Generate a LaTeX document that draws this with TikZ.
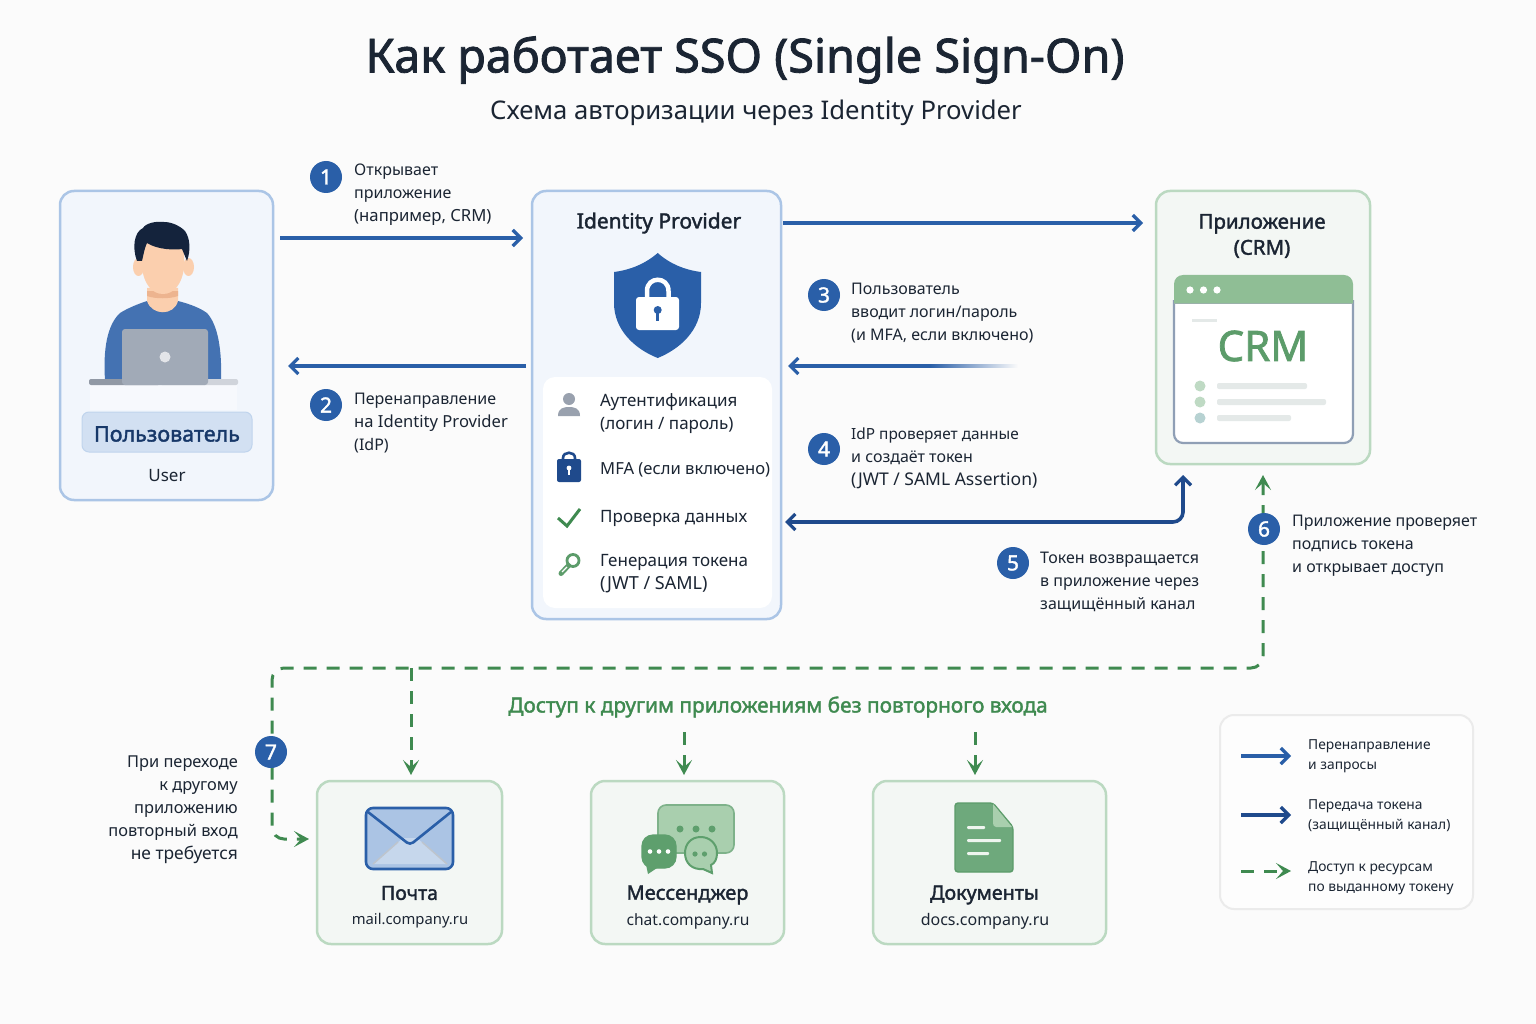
\documentclass[tikz,border=0pt]{standalone}
\usepackage{fontspec}
\setmainfont{Noto Sans}
\newfontfamily\medfont[FakeBold=1.8]{Noto Sans}
\usetikzlibrary{arrows.meta,calc}
\definecolor{bgc}{HTML}{FBFBFB}
\definecolor{ink}{HTML}{1B2533}
\definecolor{blueL}{HTML}{2A5FA8}
\definecolor{blueD}{HTML}{1F4A8C}
\definecolor{greenL}{HTML}{3F8A50}
\definecolor{bcard}{HTML}{F2F6FC}
\definecolor{bbord}{HTML}{ABC5E6}
\definecolor{gcard}{HTML}{F3F7F4}
\definecolor{gbord}{HTML}{BBD9C1}
\definecolor{skin}{HTML}{FBCFAE}
\definecolor{skinD}{HTML}{EDB48F}
\definecolor{hair}{HTML}{14233C}
\definecolor{grayL}{HTML}{A1AAB7}
\definecolor{wgreen}{HTML}{8FBE95}
\definecolor{wline}{HTML}{E4E9E8}
\definecolor{wdot}{HTML}{BFDAC4}
\definecolor{mailF}{HTML}{ABC4E4}
\definecolor{mailL}{HTML}{C6D7EC}
\definecolor{chatF}{HTML}{A9CFAE}
\definecolor{chatD}{HTML}{5E9F6D}
\newcommand{\sz}[2]{{\fontsize{#1}{23}\selectfont #2}}
\tikzset{
  x=1pt,y=-1pt,
  >={Straight Barb[length=8pt,width=16pt,line width=3.2pt]},
  bluecard/.style={draw=bbord,fill=bcard,line width=2.5pt,rounded corners=14pt,inner sep=0pt,outer sep=0pt},
  greencard/.style={draw=gbord,fill=gcard,line width=2.5pt,rounded corners=14pt,inner sep=0pt,outer sep=0pt},
  flow/.style={draw=blueL,line width=3.4pt},
  token/.style={draw=blueD,line width=3.6pt},
  access/.style={>={Stealth[length=15pt,width=16pt,inset=7pt]},draw=greenL,line width=3pt,dash pattern=on 13pt off 10pt},
  badge/.style={circle,fill=blueL,text=white,minimum size=32pt,inner sep=0pt,font=\fontsize{21}{21}\selectfont\medfont},
  lbl/.style={font=\fontsize{16}{23}\selectfont,text=ink,align=left,anchor=west,inner sep=0pt},
  lblr/.style={font=\fontsize{16.4}{23}\selectfont,text=ink,align=right,anchor=east,inner sep=0pt},
  listt/.style={font=\fontsize{17}{23}\selectfont,text=ink,align=left,anchor=west,inner sep=0pt},
  leg/.style={font=\fontsize{13.8}{20}\selectfont,text=ink,align=left,anchor=west,inner sep=0pt},
  head/.style={font=\fontsize{20.5}{26}\selectfont\medfont,text=ink,align=center,inner sep=0pt},
  sub/.style={font=\fontsize{16}{16}\selectfont,text=ink,inner sep=0pt},
}
\begin{document}
\begin{tikzpicture}
\useasboundingbox (0,0) rectangle (1536,1024);
\fill[bgc] (0,0) rectangle (1536,1024);

% title
\node[font=\fontsize{46.8}{46.8}\selectfont\medfont,text=ink,inner sep=0pt] (title) at (745,60) {Как работает SSO (Single Sign-On)};
\node[font=\fontsize{25.7}{25.7}\selectfont,text=ink,inner sep=0pt] (subtitle) at (756,113) {Схема авторизации через Identity Provider};

% cards
\node[bluecard,minimum width=213pt,minimum height=309pt] (user) at (166.5,345.5) {};
\node[bluecard,minimum width=249pt,minimum height=428pt] (idp) at (656.5,405) {};
\node[greencard,minimum width=214pt,minimum height=273pt] (app) at (1263,327.5) {};
\node[greencard,minimum width=185pt,minimum height=163pt] (mail) at (409.5,862.5) {};
\node[greencard,minimum width=193pt,minimum height=163pt] (chat) at (687.5,862.5) {};
\node[greencard,minimum width=233pt,minimum height=163pt] (docs) at (989.5,862.5) {};
\node[draw=black!8,fill=white!60!bgc,line width=2pt,rounded corners=14pt,minimum width=253pt,minimum height=194pt,inner sep=0pt,outer sep=0pt] (legend) at (1346.5,812) {};

% user figure
\fill[white!35!bcard] (90,380) rectangle (237,410);
\fill[blueL!88!white] (105,380) .. controls (103,350) and (107,325) .. (120,313) .. controls (128,308) and (138,304) .. (147,301) -- (178,301) .. controls (190,304) and (200,308) .. (207,313) .. controls (218,325) and (222,350) .. (221,380) -- cycle;
\fill[skin] (147,288) -- (178,288) -- (178,301) .. controls (174,316) and (152,316) .. (147,301) -- cycle;
\fill[skinD] (147,291) -- (178,291) -- (178,296) .. controls (170,299) and (155,299) .. (147,296) -- cycle;
\fill[skin] (138.5,267) ellipse (5.5pt and 9pt) (188.5,267) ellipse (5.5pt and 9pt);
\fill[skin] (142,240) -- (142,268) .. controls (144,284) and (152,294) .. (163,294) .. controls (174,294) and (182,284) .. (184,268) -- (184,240) -- cycle;
\fill[hair] (137,261) .. controls (132,248) and (134,232) .. (143,228) .. controls (146,223) and (156,221) .. (164,222) .. controls (172,222) and (180,226) .. (185,231) .. controls (190,238) and (191,250) .. (187,261) -- (182,249) .. controls (175,250) and (158,250) .. (147,243) .. controls (145,247) and (144,252) .. (142,261) -- cycle;
\fill[white!50!grayL, rounded corners=2pt] (160,379) rectangle (238,385);
\fill[grayL!90!black, rounded corners=2pt] (89,379) rectangle (160,385);
\fill[grayL, rounded corners=3pt] (122,329) rectangle (208,385);
\fill[white!70!grayL] (165,357) circle (5.5pt);
\node[draw=bbord!70!bcard,fill=bbord!45!bcard,line width=1pt,rounded corners=7pt,minimum width=170pt,minimum height=40pt,inner sep=0pt] (ulabel) at (167,432) {};
\node[font=\fontsize{21.5}{21.5}\selectfont\medfont,text=blueD!75!black,inner sep=0pt] (ultext) at (167,434) {Пользователь};
\node[sub,font=\fontsize{17}{17}\selectfont] (usub) at (167,476) {User};

% IdP
\node[head,font=\fontsize{21}{26}\selectfont\medfont] (idptitle) at (659,223) {Identity Provider};
\fill[blueL] (657.7,253) .. controls (670,264) and (685,270) .. (701,272) -- (701,303) .. controls (701,330) and (680,349) .. (657.7,358) .. controls (635,349) and (614,330) .. (614,303) -- (614,272) .. controls (630,270) and (645,264) .. (657.7,253) -- cycle;
\draw[white,line width=4.5pt] (647,298) -- (647,291) .. controls (647,276) and (668.5,276) .. (668.5,291) -- (668.5,298);
\fill[white,rounded corners=3pt] (636,297) rectangle (679,330);
\fill[blueL] (657.7,310) circle (4pt);
\fill[blueL] (656,310) rectangle (659.4,321);
\fill[white,rounded corners=12pt] (543,377) rectangle (772,608);
% list icons
\fill[grayL!95!black] (569,399) circle (6pt);
\fill[grayL!95!black] (558,416) .. controls (558,408) and (564,407) .. (569,407) .. controls (574,407) and (580,408) .. (580,416) -- cycle;
\draw[blueD,line width=2.6pt] (563,459) -- (563,458) .. controls (563,451) and (575,451) .. (575,458) -- (575,459);
\fill[blueD,rounded corners=2pt] (557,459) rectangle (581,482);
\fill[white] (569,468) circle (2.4pt);
\fill[white] (568,468) rectangle (570,475);
\draw[greenL,line width=3pt] (558,518) -- (567,526) -- (580,509);
\draw[greenL!85!white,line width=2.8pt] (573,560.5) circle (6pt);
\draw[greenL!85!white,line width=5pt,line cap=round] (568.5,565.5) -- (561,573.5);
\draw[white,line width=1.2pt] (562,572) -- (567,567);
\node[listt] (i1) at (600,413.5) {Аутентификация\\(логин / пароль)};
\node[listt,font=\fontsize{16.6}{23}\selectfont] (i2) at (600,470) {MFA (если включено)};
\node[listt] (i3) at (600,518) {Проверка данных};
\node[listt] (i4) at (600,573.5) {Генерация токена\\\sz{18}{(JWT / SAML)}};

% App
\node[head] (apptitle) at (1262,236) {Приложение\\(CRM)};
\fill[white,rounded corners=9pt] (1174,276) rectangle (1353,443);
\draw[grayL!85!blueL,line width=2.2pt,rounded corners=9pt] (1174,300) -- (1174,443) -- (1353,443) -- (1353,300);
\draw[grayL!70!wgreen,line width=2pt] (1174,303) -- (1353,303);
\fill[wgreen] (1174,303) [rounded corners=9pt] -- (1174,275) -- (1353,275) [sharp corners] -- (1353,303) -- cycle;
\fill[white] (1190,290) circle (3.6pt) (1203.5,290) circle (3.6pt) (1217,290) circle (3.6pt);
\fill[wline] (1192,318.5) rectangle (1217,321.5);
\node[font=\fontsize{42}{42}\selectfont\medfont,text=greenL!85!white,inner sep=0pt] (crm) at (1263,346) {CRM};
\fill[wdot] (1200,386) circle (5.5pt) (1200,402) circle (5.5pt);
\fill[wdot!60!bbord] (1200,418) circle (5.5pt);
\fill[wline,rounded corners=2pt] (1217,383) rectangle (1307,389) (1217,399) rectangle (1326,405) (1217,415) rectangle (1291,421);

% coordinates for connectors
\coordinate (u1) at ($(user.east)+(7,-107.5)$);
\coordinate (p1) at ($(idp.west)+(-9,-167)$);
\coordinate (p2) at ($(idp.west)+(-6,-39)$);
\coordinate (u2) at ($(user.east)+(15,20.5)$);
\coordinate (p3) at ($(idp.east)+(2,-182)$);
\coordinate (a3) at ($(app.west)+(-13,-104.5)$);
\coordinate (p4) at ($(idp.east)+(7,-39)$);
\coordinate (fadeA) at ($(app.west)+(-226,36.8)$);
\coordinate (fadeB) at ($(app.west)+(-138,40.2)$);
\coordinate (fadeMid) at ($(app.west)+(-226,38.5)$);
\coordinate (p5) at ($(idp.east)+(4,117)$);
\coordinate (a5) at ($(app.south)+(-80,11)$);
\coordinate (c5) at ($(app.south)+(-80,58)$);
\coordinate (a6) at ($(app.south)+(0,11)$);
\coordinate (trR) at ($(app.south)+(0,204)$);
\coordinate (trL) at ($(mail.north)+(-137.5,-113)$);
\coordinate (trB) at ($(mail.west)+(-45,-23.5)$);
\coordinate (m7) at ($(mail.west)+(-8,-23.5)$);
\coordinate (mj) at ($(mail.north)+(1.5,-113)$);
\coordinate (mN) at ($(mail.north)+(1.5,-6)$);
\coordinate (cs) at ($(chat.north)+(-3.5,-49)$);
\coordinate (cN) at ($(chat.north)+(-3.5,-6)$);
\coordinate (ds) at ($(docs.north)+(-14.5,-49)$);
\coordinate (dN) at ($(docs.north)+(-14.5,-6)$);

% connectors
\draw[flow,->] (u1) -- (p1);
\draw[flow,->] (p2) -- (u2);
\draw[flow,->] (p3) -- (a3);
\shade[left color=blueL,middle color=grayL!80!bgc,right color=bgc,shading angle=90] (fadeA) rectangle (fadeB);
\draw[flow,->] (fadeMid) -- (p4);
\draw[token,<->,rounded corners=10pt] (p5) -- (c5) -- (a5);
\draw[access,<->,rounded corners=12pt] (a6) -- (trR) -- (trL) -- (trB) -- (m7);
\draw[access,->] (mj) -- (mN);
\draw[access,->] (cs) -- (cN);
\draw[access,->] (ds) -- (dN);

% badges and labels
\node[badge] (b1) at (326,177) {1};
\node[lbl] (t1) at (354,195) {Открывает\\приложение\\\sz{16.7}{(например, CRM)}};
\node[badge] (b2) at (326,405) {2};
\node[lbl] (t2) at (354,423) {Перенаправление\\\sz{16.6}{на Identity Provider}\\(IdP)};
\node[badge] (b3) at (824,295) {3};
\node[lbl] (t3) at (851,313) {Пользователь\\вводит логин/пароль\\(и MFA, если включено)};
\node[badge] (b4) at (824,449) {4};
\node[lbl] (t4) at (851,458) {\sz{15.4}{IdP проверяет данные}\\и создаёт токен\\\sz{17.5}{(JWT / SAML Assertion)}};
\node[badge] (b5) at (1013,563) {5};
\node[lbl] (t5) at (1040,581.5) {Токен возвращается\\в приложение через\\защищённый канал};
\node[badge] (b6) at (1264,529) {6};
\node[lbl] (t6) at (1292,546) {Приложение проверяет\\подпись токена\\и открывает доступ};
\node[badge] (b7) at (271,752) {7};
\node[lblr] (t7) at (238,810) {При переходе\\к другому\\приложению\\повторный вход\\\sz{17.4}{не требуется}};

\node[font=\fontsize{20.8}{20.8}\selectfont\medfont,text=greenL,inner sep=0pt] (access) at (778,707) {Доступ к другим приложениям без повторного входа};

% mail
\fill[mailF,rounded corners=8pt] (366,808) rectangle (453,869);
\fill[mailL] (373,864) -- (403,838) -- (417,838) -- (447,864) -- cycle;
\draw[grayL!70!white,line width=1.5pt] (373,864) -- (398,842) (447,864) -- (422,842);
\draw[blueL,line width=2.6pt,rounded corners=7pt] (366,808) rectangle (453,869);
\draw[blueL,line width=2.6pt,rounded corners=4pt] (368,812) -- (410,845) -- (451,812);
\node[head,font=\fontsize{19.5}{24}\selectfont\medfont] (mailt) at (409.5,893) {Почта};
\node[sub,font=\fontsize{14.8}{15}\selectfont] (mails) at (410,921) {mail.company.ru};

% chat
\draw[chatD!80!white,fill=chatF,line width=1.6pt,rounded corners=8pt] (658,805) rectangle (734,853);
\fill[chatD] (680,829) circle (3.5pt) (696,829) circle (3.5pt) (712,829) circle (3.5pt);
\draw[chatD,fill=chatD,line width=1.2pt,rounded corners=11pt] (642,835) rectangle (676,868);
\fill[chatD] (645,860) -- (648,874) -- (660,866) -- cycle;
\fill[white] (650,851.5) circle (2.3pt) (659,851.5) circle (2.3pt) (668,851.5) circle (2.3pt);
\draw[chatD,fill=chatF,line width=2pt] (700.7,837) .. controls (710,837) and (717,844) .. (717,853) .. controls (717,859) and (715,863) .. (711,865) -- (712,873) -- (703,869) .. controls (692,870) and (685,863) .. (685,853) .. controls (685,844) and (691,837) .. (700.7,837) -- cycle;
\fill[chatD] (695,854) circle (2.6pt) (704.5,854) circle (2.6pt);
\node[head,font=\fontsize{20}{24}\selectfont\medfont] (chatt) at (687.5,895) {Мессенджер};
\node[sub,font=\fontsize{15.6}{16}\selectfont] (chats) at (688,921) {chat.company.ru};

% docs
\draw[greenL!85!white,fill=chatD!90!white,line width=1.4pt,rounded corners=3pt] (955,803) -- (993,803) -- (1013,827) -- (1013,872) -- (955,872) -- cycle;
\fill[chatF] (993,804) -- (1012,827) -- (996,827) .. controls (994,827) and (993,825) .. (993,823) -- cycle;
\fill[white!80!chatF,rounded corners=1pt] (967,826) rectangle (985,829) (967,839) rectangle (1001,842) (967,852) rectangle (989,855);
\node[head,font=\fontsize{19.7}{24}\selectfont\medfont] (docst) at (984.5,895) {Документы};
\node[sub] (docss) at (985,921) {docs.company.ru};

% legend
\coordinate (l1a) at ($(legend.west)+(21,-56)$);
\coordinate (l1b) at ($(legend.west)+(71,-56)$);
\coordinate (l2a) at ($(legend.west)+(21,3)$);
\coordinate (l2b) at ($(legend.west)+(71,3)$);
\coordinate (l3a) at ($(legend.west)+(21,59)$);
\coordinate (l3b) at ($(legend.west)+(71,59)$);
\draw[flow,->] (l1a) -- (l1b);
\draw[token,->] (l2a) -- (l2b);
\draw[access,->] (l3a) -- (l3b);
\node[leg] (l1) at (1308,756) {Перенаправление\\и запросы};
\node[leg] (l2) at (1308,816) {Передача токена\\(защищённый канал)};
\node[leg] (l3) at (1308,878) {Доступ к ресурсам\\по выданному токену};
\end{tikzpicture}
\end{document}
